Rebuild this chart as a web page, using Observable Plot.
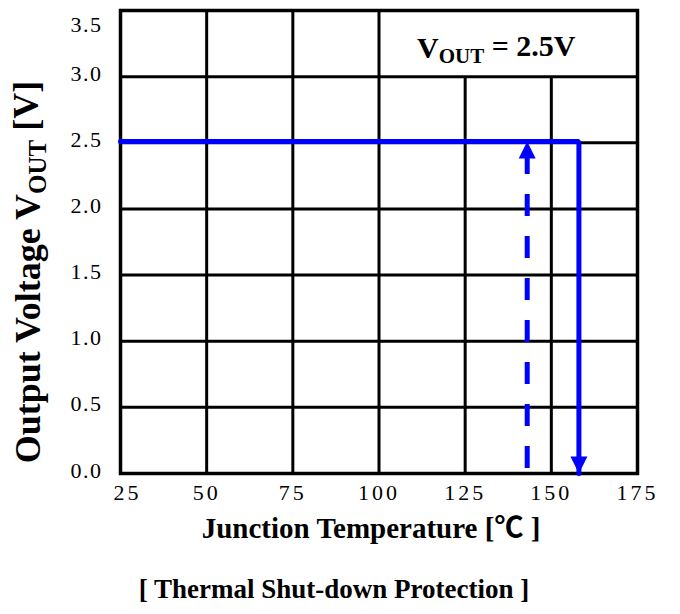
<!DOCTYPE html>
<html>
<head>
<meta charset="utf-8">
<script src="https://cdn.jsdelivr.net/npm/d3@7"></script>
<script src="https://cdn.jsdelivr.net/npm/@observablehq/plot@0.6"></script>
<style>
  body { margin: 0; background: #fff; }
  svg { display: block; }
  g[aria-label="x-axis tick label"] text { letter-spacing: 3px; }
  g[aria-label="y-axis tick label"] text { letter-spacing: 1.5px; }
</style>
</head>
<body>
<div id="chart"></div>
<script>
// ---- data ----
const xTicks = [50, 75, 100, 125, 150, 175];
const xFirstTick = [25];
const yTicks = [0.0, 0.5, 1.0, 1.5, 2.0, 2.5, 3.0];
const yTopTick = [3.5];
const xGrid = [50, 75, 100, 125, 150];
const yGrid = [0.5, 1.0, 1.5, 2.0, 2.5, 3.0];
// output voltage path: flat at Vout until shutdown, then drops to 0
const pathTemp = [25, 158, 158];
const pathVolt = [2.51, 2.51, 0];
const shutdownTemp = [158];   // solid arrow down
const recoveryTemp = [143];   // dashed arrow up
const voutLevel = 2.51;
const annotation = [{x: 134, y: 3.21, text: "VOUT = 2.5V"}];
const xTitle = ["Junction Temperature [℃ ]"];
const yTitle = ["Output Voltage VOUT [V]"];
const bottomTitle = ["[ Thermal Shut-down Protection ]"];

const serif = "'Liberation Serif', 'Times New Roman', serif";
const blue = "#0000ff";

const path = pathTemp.map((t, i) => ({t, v: pathVolt[i]}));

// filled arrowheads, tip at origin
const arrowDown = {draw(ctx) { ctx.moveTo(0, 0); ctx.lineTo(-8.5, -17); ctx.lineTo(8.5, -17); ctx.closePath(); }};
const arrowUp = {draw(ctx) { ctx.moveTo(0, 0); ctx.lineTo(-8.5, 17); ctx.lineTo(8.5, 17); ctx.closePath(); }};

const tickStyle = {tickSize: 0, fontSize: 22, fill: "#000"};

const chart = Plot.plot({
  width: 680,
  height: 614,
  marginLeft: 120,
  marginRight: 43,
  marginTop: 10,
  marginBottom: 141,
  style: {fontFamily: serif, background: "#fff", color: "#000"},
  x: {domain: [25, 175], axis: null},
  y: {domain: [0, 3.5], axis: null},
  marks: [
    Plot.ruleY(yGrid, {y: d => d, stroke: "#000", strokeWidth: 3}),
    Plot.ruleX(xGrid, {x: d => d, y1: 0, y2: d => d >= 125 ? 3.0 : 3.5, stroke: "#000", strokeWidth: 3}),
    Plot.frame({stroke: "#000", strokeWidth: 3.5}),
    Plot.axisX({...tickStyle, ticks: xTicks, tickPadding: 11, tickFormat: d => String(d)}),
    Plot.axisX({...tickStyle, ticks: xFirstTick, tickPadding: 11, dx: 7, tickFormat: d => String(d)}),
    Plot.axisY({...tickStyle, ticks: yTicks, tickPadding: 18, dy: -3, tickFormat: d3.format(".1f")}),
    Plot.axisY({...tickStyle, ticks: yTopTick, tickPadding: 18, dy: 14, tickFormat: d3.format(".1f")}),
    Plot.line(path, {x: "t", y: "v", stroke: blue, strokeWidth: 5, strokeLinejoin: "miter"}),
    Plot.ruleX(recoveryTemp, {x: d => d, y1: 0, y2: voutLevel, stroke: blue, strokeWidth: 5, strokeDasharray: "22,20", strokeDashoffset: 37}),
    Plot.dot(shutdownTemp, {x: d => d, y: 0, symbol: arrowDown, fill: blue, stroke: "none", r: 5}),
    Plot.dot(recoveryTemp, {x: d => d, y: voutLevel, symbol: arrowUp, fill: blue, stroke: "none", r: 5}),
    Plot.text(annotation, {x: "x", y: "y", text: "text", fontSize: 30, fontWeight: "bold", fill: "#000", className: "vout-note"}),
    Plot.text(xTitle, {text: d => d, frameAnchor: "bottom", dx: -8, dy: 64, fontSize: 29, fontWeight: "bold", fill: "#000", className: "x-title"}),
    Plot.text(bottomTitle, {text: d => d, frameAnchor: "bottom", dx: -45, dy: 124, fontSize: 27, fontWeight: "bold", fill: "#000"}),
    Plot.text(yTitle, {text: d => d, frameAnchor: "left", textAnchor: "middle", rotate: -90, dx: -92, dy: 30, fontSize: 36, fontWeight: "bold", fill: "#000", className: "y-title"})
  ]
});

document.getElementById("chart").appendChild(chart);

// subscripts for V_OUT
function subscriptOut(sel, fs) {
  sel.each(function() {
    const t = d3.select(this);
    const s = t.text();
    const i = s.indexOf("VOUT");
    if (i < 0) return;
    const before = s.slice(0, i + 1), after = s.slice(i + 4);
    t.text(null);
    t.append("tspan").text(before);
    t.append("tspan").attr("font-size", fs).attr("dy", "0.22em").text("OUT");
    t.append("tspan").attr("dy", "-0.22em").text(after);
  });
}
subscriptOut(d3.select(chart).selectAll(".vout-note text"), 21);
subscriptOut(d3.select(chart).selectAll(".y-title text"), 25);

// degree-Celsius sign drawn with a full-width glyph, as in the reference
d3.select(chart).selectAll(".x-title text").each(function() {
  const t = d3.select(this);
  const s = t.text();
  const i = s.indexOf("℃");
  t.text(null);
  t.append("tspan").text(s.slice(0, i));
  t.append("tspan").attr("font-family", "'Noto Sans CJK JP', sans-serif").attr("font-weight", "bold").text("℃");
  t.append("tspan").text(s.slice(i + 1));
});
</script>
</body>
</html>
